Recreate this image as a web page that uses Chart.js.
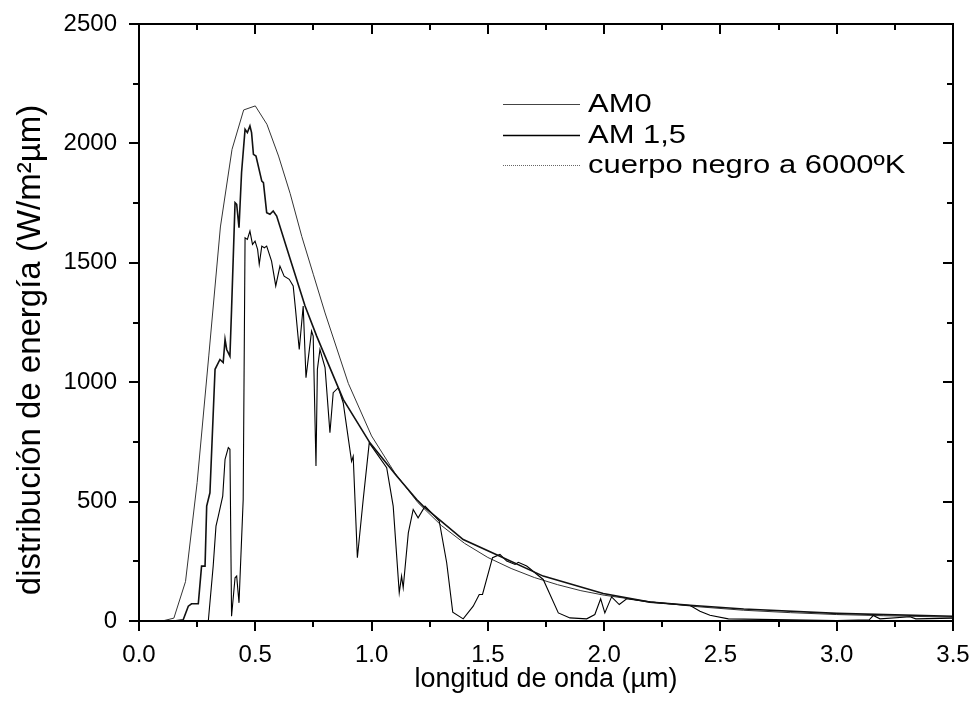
<!DOCTYPE html>
<html><head><meta charset="utf-8">
<script src="https://cdn.jsdelivr.net/npm/chart.js@4.4.1/dist/chart.umd.min.js"></script>
<style>html,body{margin:0;padding:0;background:#fff}#wrap{width:975px;height:714px}</style>
</head><body><div id="wrap"><canvas id="c" width="975" height="714"></canvas></div>
<script>
// ---- data ----
const seriesNames = ['AM0', 'AM 1,5', 'cuerpo negro a 6000ºK'];
const xMajor = [0, 0.5, 1.0, 1.5, 2.0, 2.5, 3.0, 3.5];
const xMinor = [0.25, 0.75, 1.25, 1.75, 2.25, 2.75, 3.25];
const yMajor = [0, 500, 1000, 1500, 2000, 2500];
const yMinor = [250, 750, 1250, 1750, 2250];

const bbX = [0.10,0.15,0.20,0.25,0.30,0.35,0.40,0.45,0.50,0.55,0.60,0.65,0.70,0.75,0.80,0.90,1.00,1.10,1.20,1.30,1.40,1.50,1.60,1.70,1.80,1.90,2.00,2.20,2.40,2.60,2.80,3.00,3.20,3.50];
const bbY = [0,12,165,580,1110,1650,1975,2140,2157,2080,1947,1790,1610,1450,1290,995,775,620,495,400,325,266,220,182,152,127,108,80,60,45,35,27,22,16];

const am0X = [0.15,0.19,0.212,0.226,0.255,0.269,0.284,0.291,0.305,0.327,0.348,0.362,0.370,0.377,0.391,0.398,0.413,0.420,0.430,0.441,0.456,0.466,0.477,0.484,0.492,0.503,0.528,0.535,0.549,0.563,0.577,0.592,0.65,0.714,0.764,0.80,0.878,0.993,1.108,1.194,1.222,1.394,1.552,1.738,1.996,2.197,2.383,2.6,3.0,3.5];
const am0Y = [0,5,62,72,72,230,230,481,537,1054,1095,1082,1179,1137,1109,1305,1752,1745,1647,1878,2059,2045,2073,2045,1954,1947,1842,1836,1710,1703,1717,1696,1516,1319,1193,1109,928,746,607,509,481,341,271,188,115,79,65,50,32,20];

const am15X = [0.298,0.319,0.331,0.341,0.360,0.370,0.384,0.391,0.398,0.413,0.420,0.430,0.448,0.456,0.466,0.477,0.488,0.499,0.510,0.517,0.528,0.539,0.549,0.570,0.588,0.606,0.624,0.646,0.663,0.673,0.689,0.706,0.718,0.742,0.749,0.761,0.767,0.778,0.800,0.821,0.835,0.857,0.878,0.914,0.921,0.939,0.964,0.990,1.065,1.093,1.119,1.129,1.136,1.158,1.179,1.200,1.230,1.258,1.291,1.323,1.349,1.394,1.437,1.463,1.477,1.520,1.552,1.581,1.617,1.631,1.667,1.738,1.803,1.853,1.925,1.960,1.985,2.003,2.032,2.065,2.097,2.20,2.37,2.412,2.455,2.534,3.0,3.140,3.157,3.186,3.315,3.340,3.5];
const am15Y = [0,230,397,439,523,677,726,719,20,181,188,76,509,1605,1598,1633,1577,1591,1556,1494,1570,1563,1570,1507,1403,1486,1444,1431,1403,1305,1137,1319,1019,1214,1193,649,1054,1137,1061,788,956,977,914,669,690,265,509,746,642,481,118,188,139,369,467,432,481,453,418,244,37,9,62,111,111,265,279,251,237,246,230,174,34,13,9,27,93,34,101,69,93,79,65,41,24,9,2,5,23,9,18,9,12];

const xTitle = 'longitud de onda (\u00B5m)';
const yTitle = 'distribuci\u00F3n de energ\u00EDa (W/m\u00B2\u00B5m)';

// ---- build ----
const pts = (xs, ys) => xs.map((v, i) => ({x: v, y: ys[i]}));
const FONT = '"Liberation Sans", Arial, sans-serif';

const legendStyles = [
  {color:'#444', width:1, dash:[]},
  {color:'#000', width:1.3, dash:[]},
  {color:'#666', width:1, dash:[1,1]}
];

const framePlugin = {
  id: 'frame',
  afterDraw(chart) {
    const {ctx, chartArea: a, scales: {x, y}} = chart;
    ctx.save();
    ctx.strokeStyle = '#000';
    ctx.lineWidth = 2;
    ctx.strokeRect(a.left, a.top, a.right - a.left, a.bottom - a.top);
    const MAJ = 10, MIN = 6;
    ctx.beginPath();
    const xt = (v, len) => {
      const p = Math.round(x.getPixelForValue(v));
      ctx.moveTo(p, a.bottom); ctx.lineTo(p, a.bottom + len);
      ctx.moveTo(p, a.top); ctx.lineTo(p, a.top + len);
    };
    const yt = (v, len) => {
      const p = Math.round(y.getPixelForValue(v));
      ctx.moveTo(a.left, p); ctx.lineTo(a.left - len, p);
      ctx.moveTo(a.right, p); ctx.lineTo(a.right - len, p);
    };
    xMajor.forEach(v => xt(v, MAJ));
    xMinor.forEach(v => xt(v, MIN));
    yMajor.forEach(v => yt(v, MAJ));
    yMinor.forEach(v => yt(v, MIN));
    ctx.stroke();

    // axis titles
    ctx.fillStyle = '#000';
    ctx.textAlign = 'center';
    ctx.textBaseline = 'middle';
    ctx.font = '27px ' + FONT;
    ctx.fillText(xTitle, (a.left + a.right) / 2, 680);
    ctx.save();
    ctx.translate(31, 350);
    ctx.rotate(-Math.PI / 2);
    ctx.font = '33px ' + FONT;
    ctx.fillText(yTitle, 0, 0);
    ctx.restore();

    // legend
    const lx0 = 503, lx1 = 580, tx = 588, ys = [104, 135, 165];
    ctx.font = '26px ' + FONT;
    ctx.textAlign = 'left';
    seriesNames.forEach((name, i) => {
      const s = legendStyles[i];
      ctx.beginPath();
      ctx.setLineDash(s.dash);
      ctx.strokeStyle = s.color; ctx.lineWidth = s.width;
      ctx.moveTo(lx0, ys[i] + 0.5); ctx.lineTo(lx1, ys[i] + 0.5);
      ctx.stroke();
      ctx.setLineDash([]);
      ctx.save();
      ctx.translate(tx, ys[i] + 1);
      ctx.scale(1.19, 1);
      ctx.fillText(name, 0, 0);
      ctx.restore();
    });
    ctx.restore();
  }
};

new Chart(document.getElementById('c'), {
  type: 'line',
  data: {
    datasets: [
      {label: seriesNames[0], data: pts(am0X, am0Y), borderColor: '#111', borderWidth: 1.6},
      {label: seriesNames[1], data: pts(am15X, am15Y), borderColor: '#000', borderWidth: 1.1},
      {label: seriesNames[2], data: pts(bbX, bbY), borderColor: '#333', borderWidth: 1}
    ]
  },
  options: {
    responsive: false,
    animation: false,
    devicePixelRatio: 1,
    elements: {point: {radius: 0}, line: {tension: 0, fill: false}},
    layout: {padding: {top: 24, right: 22, left: 0, bottom: 0}},
    plugins: {legend: {display: false}, tooltip: {enabled: false}},
    scales: {
      x: {
        type: 'linear', min: 0, max: 3.5,
        afterFit: s => { s.height = 93; s.paddingLeft = 0; s.paddingRight = 0; },
        afterBuildTicks: s => { s.ticks = xMajor.map(v => ({value: v})); },
        ticks: {color: '#000', padding: 12, maxRotation: 0, font: {family: FONT, size: 24}, callback: v => v.toFixed(1)},
        grid: {display: false},
        border: {display: false},
        title: {display: false}
      },
      y: {
        type: 'linear', min: 0, max: 2500,
        afterFit: s => { s.width = 139; s.paddingTop = 0; s.paddingBottom = 0; },
        afterBuildTicks: s => { s.ticks = yMajor.map(v => ({value: v})); },
        ticks: {color: '#000', padding: 14, font: {family: FONT, size: 24}, callback: v => String(v)},
        grid: {display: false},
        border: {display: false},
        title: {display: false}
      }
    }
  },
  plugins: [framePlugin]
});
</script>
</body></html>
